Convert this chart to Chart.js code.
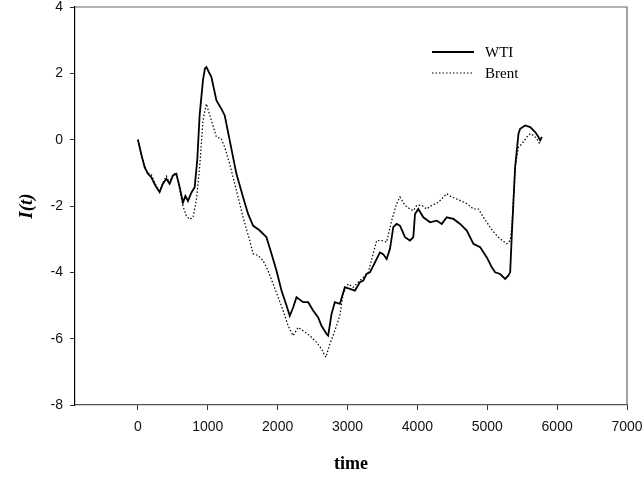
<!DOCTYPE html>
<html>
<head>
<meta charset="utf-8">
<script src="https://cdn.jsdelivr.net/npm/chart.js@4"></script>
<style>
  html, body { margin: 0; padding: 0; background: #fff; }
  #wrap { width: 643px; height: 479px; }
</style>
</head>
<body>
<div id="wrap"><canvas id="chart" width="643" height="479"></canvas></div>
<script>
// values
const wtiTime = [0, 48, 96, 143, 191, 230, 263, 311, 358, 407, 454, 502, 550, 598, 645, 680, 717, 765, 813, 850, 884, 932, 960, 980, 1052, 1124, 1195, 1243, 1314, 1410, 1505, 1577, 1648, 1744, 1840, 1912, 1984, 2055, 2127, 2174, 2222, 2270, 2365, 2437, 2508, 2580, 2628, 2700, 2723, 2771, 2819, 2891, 2962, 3034, 3106, 3178, 3225, 3273, 3321, 3393, 3464, 3510, 3560, 3608, 3655, 3703, 3751, 3823, 3894, 3942, 3966, 4013, 4085, 4181, 4277, 4349, 4420, 4516, 4611, 4707, 4802, 4898, 4994, 5065, 5113, 5184, 5256, 5300, 5328, 5352, 5399, 5447, 5471, 5543, 5614, 5686, 5733, 5757, 5781];
const wtiValues = [0, -0.43, -0.83, -1.03, -1.13, -1.3, -1.43, -1.58, -1.33, -1.18, -1.33, -1.08, -1.03, -1.43, -1.9, -1.7, -1.85, -1.6, -1.43, -0.6, 0.75, 1.8, 2.15, 2.19, 1.89, 1.18, 0.93, 0.73, -0.02, -1.03, -1.73, -2.24, -2.59, -2.74, -2.94, -3.44, -3.95, -4.55, -5.0, -5.31, -5.06, -4.75, -4.9, -4.9, -5.15, -5.36, -5.61, -5.86, -5.91, -5.26, -4.9, -4.95, -4.45, -4.5, -4.55, -4.3, -4.25, -4.05, -4.0, -3.7, -3.4, -3.45, -3.6, -3.29, -2.64, -2.54, -2.59, -2.94, -3.04, -2.94, -2.24, -2.09, -2.34, -2.49, -2.44, -2.54, -2.34, -2.39, -2.54, -2.74, -3.14, -3.24, -3.55, -3.85, -4.0, -4.05, -4.2, -4.1, -4.0, -2.84, -0.83, 0.18, 0.33, 0.43, 0.38, 0.23, 0.08, -0.02, 0.08];

const brentTime = [0, 48, 96, 143, 191, 263, 311, 358, 407, 454, 502, 550, 598, 645, 693, 741, 788, 837, 884, 932, 980, 1052, 1124, 1195, 1243, 1314, 1410, 1505, 1601, 1648, 1720, 1792, 1863, 1935, 2007, 2078, 2150, 2222, 2293, 2365, 2461, 2557, 2628, 2690, 2748, 2819, 2891, 2938, 3010, 3082, 3153, 3225, 3297, 3368, 3417, 3488, 3560, 3632, 3703, 3751, 3823, 3894, 3942, 3990, 4062, 4133, 4205, 4300, 4372, 4420, 4492, 4611, 4707, 4802, 4874, 4945, 5041, 5113, 5184, 5280, 5328, 5352, 5399, 5447, 5495, 5566, 5614, 5662, 5710, 5743, 5781];
const brentValues = [0, -0.45, -0.8, -1.0, -1.05, -1.4, -1.55, -1.3, -1.1, -1.3, -1.05, -1.0, -1.5, -2.0, -2.3, -2.4, -2.35, -1.83, -0.83, 0.58, 1.08, 0.58, 0.08, 0.03, -0.23, -0.73, -1.53, -2.34, -3.04, -3.44, -3.49, -3.65, -3.95, -4.35, -4.75, -5.15, -5.61, -5.91, -5.66, -5.76, -5.91, -6.11, -6.31, -6.56, -6.16, -5.76, -5.3, -4.65, -4.35, -4.45, -4.3, -4.15, -4.0, -3.44, -3.04, -3.04, -3.09, -2.44, -1.93, -1.73, -1.98, -2.09, -2.14, -1.98, -1.98, -2.09, -1.98, -1.89, -1.73, -1.63, -1.73, -1.83, -1.93, -2.09, -2.09, -2.34, -2.64, -2.84, -2.99, -3.14, -3.04, -2.64, -0.83, -0.23, -0.13, 0.08, 0.18, 0.13, 0.03, -0.1, 0.08];

const xTicks = [0, 1000, 2000, 3000, 4000, 5000, 6000, 7000];
const yTicks = [-8, -6, -4, -2, 0, 2, 4];
const seriesNames = ["WTI", "Brent"];

const toPoints = (xs, ys) => xs.map((x, i) => ({ x: x, y: ys[i] }));

// legend drawn inside the plot, plus grey top/right frame
const boxAndLegend = {
  id: "boxAndLegend",
  afterDraw(chart) {
    const ctx = chart.ctx;
    const a = chart.chartArea;
    ctx.save();
    ctx.strokeStyle = "#666";
    ctx.lineWidth = 1.2;
    ctx.beginPath();
    ctx.moveTo(a.left, a.top);
    ctx.lineTo(a.right, a.top);
    ctx.lineTo(a.right, a.bottom);
    ctx.stroke();

    ctx.strokeStyle = "#000";
    ctx.fillStyle = "#000";
    ctx.font = "15px 'Liberation Serif', serif";
    ctx.textBaseline = "middle";
    const rows = [52, 73];
    seriesNames.forEach((name, i) => {
      const ds = chart.data.datasets[i];
      ctx.lineWidth = ds.borderWidth;
      ctx.setLineDash(ds.borderDash || []);
      ctx.beginPath();
      ctx.moveTo(432, rows[i]);
      ctx.lineTo(474, rows[i]);
      ctx.stroke();
      ctx.setLineDash([]);
      ctx.fillText(name, 485, rows[i] + 1);
    });
    ctx.restore();
  }
};

new Chart(document.getElementById("chart"), {
  type: "line",
  data: {
    datasets: [
      {
        label: seriesNames[0],
        data: toPoints(wtiTime, wtiValues),
        borderColor: "#000",
        borderWidth: 1.8,
        pointRadius: 0,
        tension: 0,
        fill: false
      },
      {
        label: seriesNames[1],
        data: toPoints(brentTime, brentValues),
        borderColor: "#000",
        borderWidth: 1.2,
        borderDash: [1.5, 2],
        pointRadius: 0,
        tension: 0,
        fill: false
      }
    ]
  },
  options: {
    responsive: false,
    animation: false,
    layout: { padding: { top: 7, right: 16, left: 0, bottom: 0 } },
    plugins: { legend: { display: false }, tooltip: { enabled: false } },
    scales: {
      x: {
        type: "linear",
        min: -900,
        max: 7000,
        afterBuildTicks: (s) => { s.ticks = xTicks.map((v) => ({ value: v })); },
        afterFit: (s) => { s.height = 74; s.paddingLeft = 0; s.paddingRight = 0; },
        grid: { drawOnChartArea: false, tickLength: 5, color: "#333" },
        border: { color: "#555", width: 1.2 },
        ticks: {
          color: "#111",
          padding: 9,
          maxRotation: 0,
          callback: (v) => String(v),
          font: { family: "'Liberation Sans', Arial", size: 14 }
        },
        title: {
          display: true,
          text: "time",
          color: "#000",
          padding: { top: 12 },
          font: { family: "'Liberation Serif', serif", size: 18, weight: "bold" }
        }
      },
      y: {
        min: -8,
        max: 4,
        afterBuildTicks: (s) => { s.ticks = yTicks.map((v) => ({ value: v })); },
        afterFit: (s) => { s.width = 75; s.paddingTop = 0; s.paddingBottom = 0; },
        grid: { drawOnChartArea: false, tickLength: 5, color: "#333" },
        border: { color: "#000", width: 1.2 },
        ticks: {
          color: "#111",
          padding: 7,
          callback: (v) => String(v),
          font: { family: "'Liberation Sans', Arial", size: 14 }
        },
        title: {
          display: true,
          text: "I(t)",
          color: "#000",
          padding: { bottom: 0, top: 16 },
          font: { family: "'Liberation Serif', serif", size: 19, weight: "bold", style: "italic" }
        }
      }
    }
  },
  plugins: [boxAndLegend]
});
</script>
</body>
</html>
